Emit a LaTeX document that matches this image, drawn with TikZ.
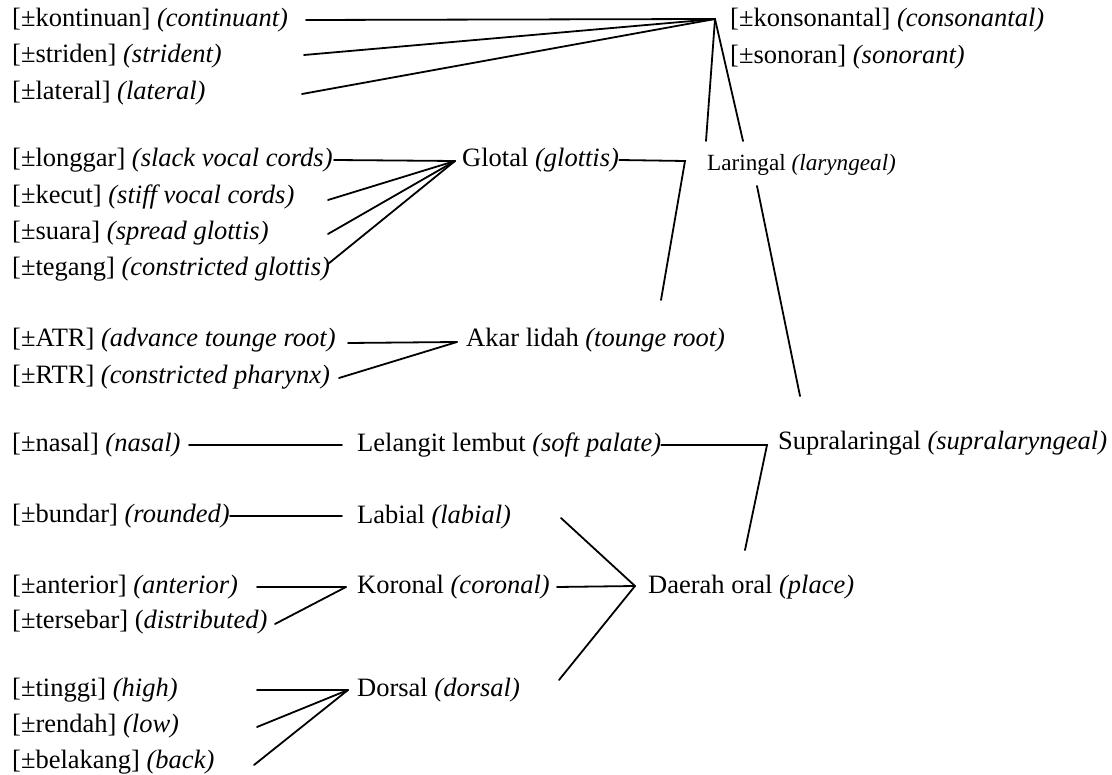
\documentclass[tikz,border=0pt]{standalone}
\usepackage{fontspec}
\setmainfont{Liberation Serif}
\begin{document}
\begin{tikzpicture}[x=1pt,y=-1pt,
  lbl/.style={anchor=west,inner sep=0pt,font=\fontsize{26.5}{31}\selectfont},
  small/.style={anchor=west,inner sep=0pt,font=\fontsize{23.2}{28}\selectfont},
  edge/.style={line width=1.8pt,line cap=round,line join=miter}]
\useasboundingbox (0,0) rectangle (1112,775);

% feature labels, left column
\node[lbl] (kont) at (12,20)  {[±kontinuan] \textit{(continuant)}};
\node[lbl] (stri) at (12,56)  {[±striden] \textit{(strident)}};
\node[lbl] (late) at (12,93)  {[±lateral] \textit{(lateral)}};
\node[lbl] (long) at (12,160) {[±longgar] \textit{(slack vocal cords)}};
\node[lbl] (kecu) at (12,197) {[±kecut] \textit{(stiff vocal cords)}};
\node[lbl] (suar) at (12,233) {[±suara] \textit{(spread glottis)}};
\node[lbl] (tega) at (12,269) {[±tegang] \textit{(constricted glottis)}};
\node[lbl] (atr)  at (12,340) {[±ATR] \textit{(advance tounge root)}};
\node[lbl] (rtr)  at (12,377) {[±RTR] \textit{(constricted pharynx)}};
\node[lbl] (nasa) at (12,445) {[±nasal] \textit{(nasal)}};
\node[lbl] (bund) at (12,516) {[±bundar] \textit{(rounded)}};
\node[lbl] (ante) at (12,587) {[±anterior] \textit{(anterior)}};
\node[lbl] (ters) at (12,622) {[±tersebar] (\textit{distributed)}};
\node[lbl] (ting) at (12,690) {[±tinggi] \textit{(high)}};
\node[lbl] (rend) at (12,726) {[±rendah] \textit{(low)}};
\node[lbl] (bela) at (12,762) {[±belakang] \textit{(back)}};

% root features
\node[lbl] (kons) at (730,20) {[±konsonantal] \textit{(consonantal)}};
\node[lbl] (sono) at (730,57) {[±sonoran] \textit{(sonorant)}};

% class nodes
\node[lbl]   (glot) at (462,160) {Glotal \textit{(glottis)}};
\node[small] (lari) at (707,165) {Laringal \textit{(laryngeal)}};
\node[lbl]   (akar) at (466,340) {Akar lidah \textit{(tounge root)}};
\node[lbl]   (lele) at (357,445) {Lelangit lembut \textit{(soft palate)}};
\node[lbl]   (supr) at (778,443) {Supralaringal \textit{(supralaryngeal)}};
\node[lbl]   (labi) at (357,517) {Labial \textit{(labial)}};
\node[lbl]   (koro) at (357,587) {Koronal \textit{(coronal)}};
\node[lbl]   (dors) at (357,690) {Dorsal \textit{(dorsal)}};
\node[lbl]   (daer) at (648,587) {Daerah oral \textit{(place)}};

% attachment points
\coordinate (root)  at (715,19);
\coordinate (kontR) at (306,20);
\coordinate (striR) at (304,55);
\coordinate (lateR) at (302,94);
\coordinate (lariL) at (706,141);
\coordinate (lariR) at (743,141);

\coordinate (glotL) at (455,161);
\coordinate (longR) at (334,160);
\coordinate (kecuR) at (328,200);
\coordinate (suarR) at (328,234);
\coordinate (tegaR) at (328,264);

\coordinate (glotC) at (685,161);
\coordinate (akarT) at (661,300);
\coordinate (lariB) at (757,186);
\coordinate (suprT) at (800,396);

\coordinate (akarL) at (457,342);
\coordinate (atrR)  at (348,343);
\coordinate (rtrR)  at (339,378);

\coordinate (nasaR) at (189,445);
\coordinate (leleL) at (342,445);
\coordinate (leleC) at (767,445);
\coordinate (daerT) at (745,550);

\coordinate (bundR) at (230,516);
\coordinate (labiL) at (342,516);

\coordinate (koroL) at (346,587);
\coordinate (anteR) at (257,587);
\coordinate (tersR) at (275,624);

\coordinate (dorsL) at (348,690);
\coordinate (tingR) at (257,690);
\coordinate (rendR) at (257,727);
\coordinate (belaR) at (254,765);

\coordinate (daerL) at (635,586);
\coordinate (labiR) at (561,518);
\coordinate (koroR) at (557,587);
\coordinate (dorsR) at (559,680);

% connectors
\draw[edge] (kontR) -- (root);
\draw[edge] (striR) -- (root);
\draw[edge] (lateR) -- (root);
\draw[edge] (root) -- (lariL);
\draw[edge] (root) -- (lariR);

\draw[edge] (longR) -- (glotL);
\draw[edge] (kecuR) -- (glotL);
\draw[edge] (suarR) -- (glotL);
\draw[edge] (tegaR) -- (glotL);

\draw[edge] (glot.east) -- (glotC) -- (akarT);
\draw[edge] (lariB) -- (suprT);

\draw[edge] (atrR) -- (akarL);
\draw[edge] (rtrR) -- (akarL);

\draw[edge] (nasaR) -- (leleL);
\draw[edge] (lele.east) -- (leleC) -- (daerT);

\draw[edge] (bundR) -- (labiL);
\draw[edge] (anteR) -- (koroL);
\draw[edge] (tersR) -- (koroL);

\draw[edge] (tingR) -- (dorsL);
\draw[edge] (rendR) -- (dorsL);
\draw[edge] (belaR) -- (dorsL);

\draw[edge] (labiR) -- (daerL);
\draw[edge] (koroR) -- (daerL);
\draw[edge] (dorsR) -- (daerL);
\end{tikzpicture}
\end{document}
